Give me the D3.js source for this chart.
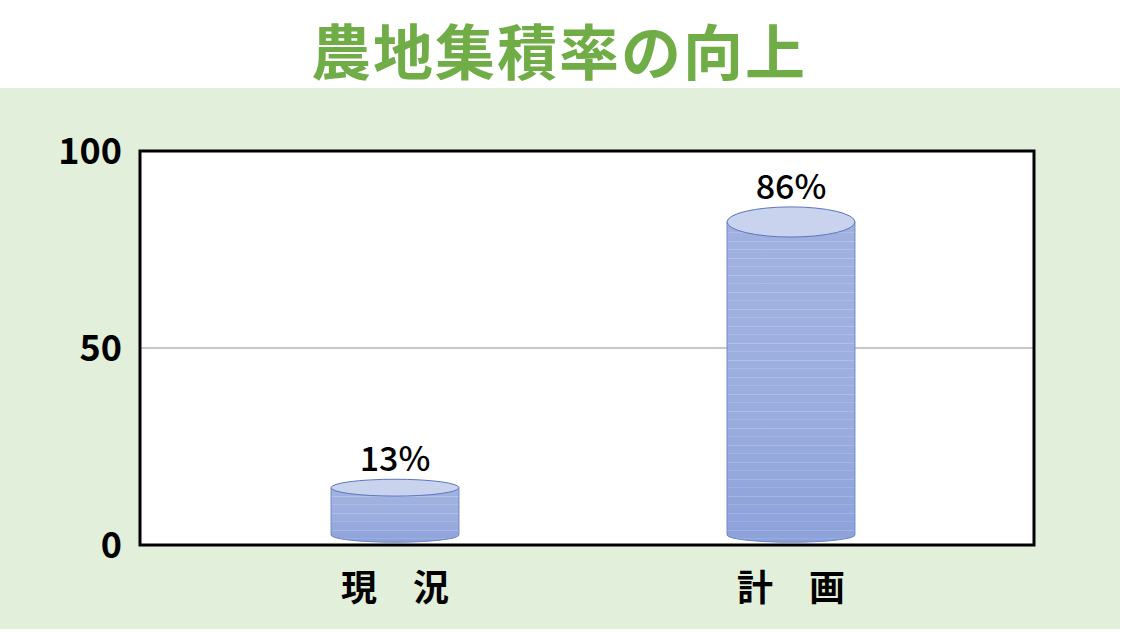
<!DOCTYPE html>
<html>
<head>
<meta charset="utf-8">
<script src="https://cdn.jsdelivr.net/npm/d3@7.9.0/dist/d3.min.js"></script>
<style>
  html, body { margin: 0; padding: 0; background: #fff; }
  svg { display: block; }
  text { font-family: "Noto Sans CJK JP", "Noto Sans", sans-serif; }
</style>
</head>
<body>
<svg id="chart" width="1123" height="633"></svg>
<script>
const title = "農地集積率の向上";
const categories = ["現　況", "計　画"];
const values = [13, 86];
const valueLabels = ["13%", "86%"];
const yTicks = [0, 50, 100];

const svg = d3.select("#chart");
const W = 1123, H = 633;
const box = { left: 140, right: 1034, top: 151, bottom: 545 };

// background band
svg.append("rect").attr("x", 0).attr("y", 0).attr("width", W).attr("height", H).attr("fill", "#fff");
svg.append("rect").attr("x", 0).attr("y", 88).attr("width", 1120).attr("height", 541).attr("fill", "#e2efda");

svg.append("text")
  .attr("x", 559).attr("y", 48)
  .attr("text-anchor", "middle")
  .attr("dominant-baseline", "central")
  .attr("font-size", 60)
  .attr("font-weight", 700)
  .attr("letter-spacing", 2)
  .attr("fill", "#70ad47")
  .text(title);

// plot area
svg.append("rect")
  .attr("x", box.left).attr("y", box.top)
  .attr("width", box.right - box.left).attr("height", box.bottom - box.top)
  .attr("fill", "#fff");

const y = d3.scaleLinear().domain([0, 100]).range([box.bottom, box.top]);
// cylinders are drawn with a little depth, so their own scale is shorter
const yCyl = d3.scaleLinear().domain([0, 100]).range([box.bottom - 10, box.top + 20]);
const x = d3.scaleBand().domain(categories).range([197, 989]).paddingInner(0.677).paddingOuter(0.3385);

svg.append("g")
  .selectAll("line")
  .data(yTicks.filter(d => d > 0 && d < 100))
  .join("line")
  .attr("x1", box.left).attr("x2", box.right)
  .attr("y1", d => y(d)).attr("y2", d => y(d))
  .attr("stroke", "#c8c8c8").attr("stroke-width", 2);

// stripe pattern for the cylinder bodies
const defs = svg.append("defs");
const pat = defs.append("pattern")
  .attr("id", "stripes").attr("patternUnits", "userSpaceOnUse")
  .attr("width", 10).attr("height", 17);
pat.append("rect").attr("width", 10).attr("height", 17).attr("fill", "#97aadd");
pat.append("rect").attr("y", 3).attr("width", 10).attr("height", 1).attr("fill", "#adbde8");
pat.append("rect").attr("y", 11).attr("width", 10).attr("height", 1).attr("fill", "#a7b8e5");

const grad = defs.append("linearGradient").attr("id", "shade").attr("x1", 0).attr("x2", 0).attr("y1", 0).attr("y2", 1);
grad.append("stop").attr("offset", "0%").attr("stop-color", "#fff").attr("stop-opacity", 0.08);
grad.append("stop").attr("offset", "100%").attr("stop-color", "#6f86d0").attr("stop-opacity", 0.25);

const ry = cy => 7 + (box.bottom - cy) * 0.025;

const bars = svg.append("g")
  .selectAll("g")
  .data(categories.map((c, i) => ({ c, v: values[i], label: valueLabels[i] })))
  .join("g");

bars.each(function (d) {
  const g = d3.select(this);
  const x0 = x(d.c), w = x.bandwidth(), cx = x0 + w / 2, rx = w / 2;
  const yb = yCyl(0), yt = yCyl(d.v);
  const rb = ry(yb), rt = ry(yt);
  const body = `M${x0},${yt} L${x0},${yb} A${rx},${rb} 0 0 0 ${x0 + w},${yb} L${x0 + w},${yt} Z`;
  g.append("path").attr("d", body).attr("fill", "url(#stripes)");
  g.append("path").attr("d", body).attr("fill", "url(#shade)")
    .attr("stroke", "#7088c8").attr("stroke-width", 1);
  g.append("ellipse")
    .attr("cx", cx).attr("cy", yt).attr("rx", rx).attr("ry", rt)
    .attr("fill", "#c9d3ee").attr("stroke", "#5a76c0").attr("stroke-width", 1);
  g.append("text")
    .attr("x", cx).attr("y", yt - rt - 8)
    .attr("text-anchor", "middle")
    .attr("font-family", "'Noto Sans', sans-serif")
    .attr("font-size", 34).attr("font-weight", 500)
    .attr("fill", "#000")
    .text(d.label);
});

// frame
svg.append("rect")
  .attr("x", box.left).attr("y", box.top)
  .attr("width", box.right - box.left).attr("height", box.bottom - box.top)
  .attr("fill", "none").attr("stroke", "#000").attr("stroke-width", 3);

// y tick labels
svg.append("g")
  .selectAll("text")
  .data(yTicks)
  .join("text")
  .attr("x", box.left - 18)
  .attr("y", d => y(d))
  .attr("dy", "0.36em")
  .attr("text-anchor", "end")
  .attr("font-family", "'Noto Sans', sans-serif")
  .attr("font-size", 36).attr("font-weight", 600)
  .attr("fill", "#000")
  .text(d => d);

// category labels
svg.append("g")
  .selectAll("text")
  .data(categories)
  .join("text")
  .attr("x", d => x(d) + x.bandwidth() / 2)
  .attr("y", 585)
  .attr("dominant-baseline", "central")
  .attr("text-anchor", "middle")
  .attr("font-size", 36).attr("font-weight", 700)
  .attr("fill", "#000")
  .text(d => d);
</script>
</body>
</html>
